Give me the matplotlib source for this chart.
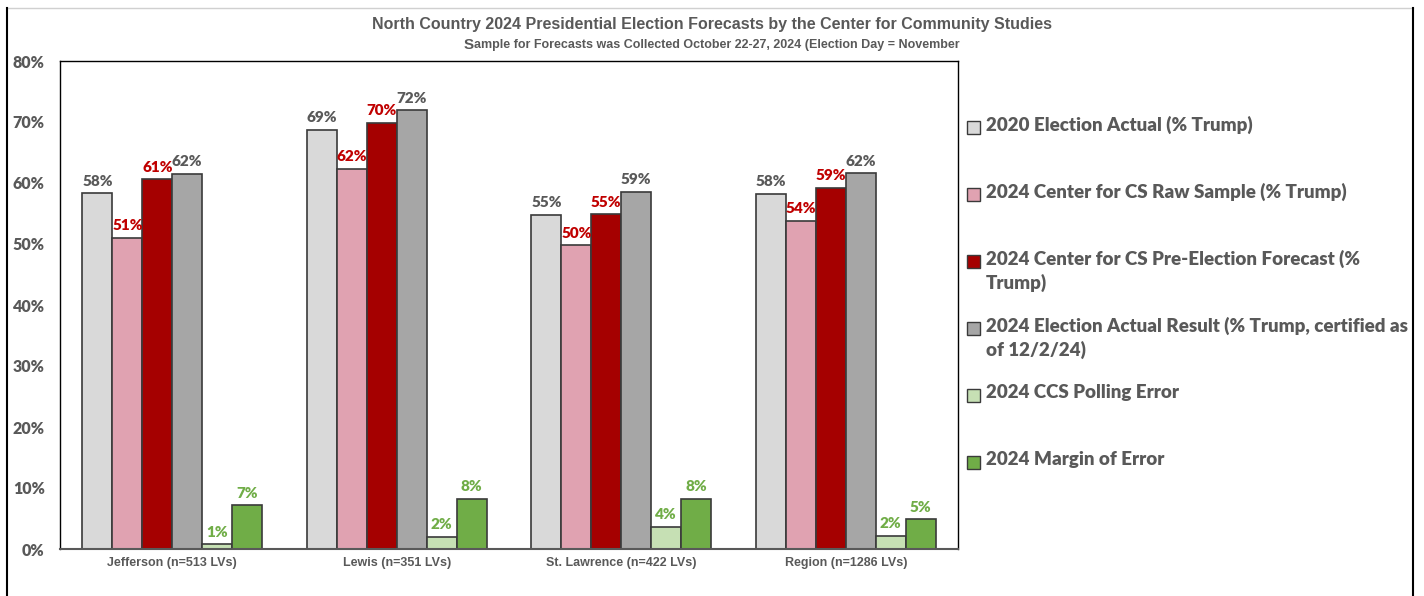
import matplotlib.pyplot as plt
import matplotlib as mpl
from matplotlib.patches import Rectangle
from matplotlib.lines import Line2D
import numpy as np

#==============================================================================
# data

categories = ['Jefferson (n=513 LVs)', 'Lewis (n=351 LVs)',
              'St. Lawrence (n=422 LVs)', 'Region (n=1286 LVs)']

series_names = ['2020 Election Actual (% Trump)',
                '2024 Center for CS Raw Sample (% Trump)',
                '2024 Center for CS Pre-Election Forecast (%\nTrump)',
                '2024 Election Actual Result (% Trump, certified as\nof 12/2/24)',
                '2024 CCS Polling Error',
                '2024 Margin of Error']

actual_2020   = [0.583, 0.687, 0.548, 0.582]
raw_sample    = [0.510, 0.623, 0.498, 0.538]
forecast      = [0.606, 0.699, 0.549, 0.592]
actual_2024   = [0.615, 0.719, 0.586, 0.616]
polling_error = [0.008, 0.020, 0.036, 0.022]
margin_error  = [0.072, 0.082, 0.082, 0.049]

values = [actual_2020, raw_sample, forecast, actual_2024, polling_error, margin_error]

#==============================================================================
# styles

colors      = ['#D9D9D9', '#E0A2B1', '#A50000', '#A6A6A6', '#C6E0B4', '#70AD47']
labelcolors = ['#595959', '#C00000', '#C00000', '#595959', '#70AD47', '#70AD47']
gray = '#595959'
calibri = ['Lato', 'DejaVu Sans']
arialn = ['Liberation Sans Narrow', 'Liberation Sans', 'DejaVu Sans']

fig = plt.figure(figsize=(14.24, 5.96), dpi=100)
ax = fig.add_axes([60/1424, 47/596, 898/1424, 488/596])

x = np.arange(len(categories))
width = 0.8 / len(values)

for i, vals in enumerate(values):
    xs = x - 0.4 + width*(i + 0.5)
    bars = ax.bar(xs, vals, width=width, color=colors[i], edgecolor='#3a3a3a', linewidth=1.2, zorder=2)
    for b, v in zip(bars, vals):
        ax.annotate('{:.0%}'.format(v), (b.get_x() + b.get_width()/2, v),
                    xytext=(0, 4), textcoords='offset points', ha='center', va='bottom',
                    fontsize=11, fontweight='heavy', color=labelcolors[i], family=calibri)

ax.set_xlim(-0.5, len(categories) - 0.5)
ax.set_ylim(0, 0.8)
ax.set_yticks(np.arange(0, 0.81, 0.1))
ax.yaxis.set_major_formatter(mpl.ticker.PercentFormatter(1.0, decimals=0))
ax.set_xticks(x)
ax.set_xticklabels(categories)
ax.tick_params(axis='both', length=0)
ax.tick_params(axis='y', pad=11)
ax.tick_params(axis='x', pad=6)
for lab in ax.get_yticklabels():
    lab.set_fontsize(11.5); lab.set_fontweight('heavy'); lab.set_color(gray); lab.set_family(calibri)
for lab in ax.get_xticklabels():
    lab.set_fontsize(9); lab.set_fontweight('bold'); lab.set_color(gray); lab.set_family(arialn)
for sp in ax.spines.values():
    sp.set_color('#000000'); sp.set_linewidth(1.0)
ax.spines['bottom'].set_color('#595959')
ax.spines['bottom'].set_linewidth(1.5)

# legend drawn by hand so two-line items keep an even spacing
top = 1 - 127/596
step = 67/596
for i, name in enumerate(series_names):
    yy = top - i*step
    fig.patches.append(Rectangle((967/1424, yy - 6.5/596), 13/1424, 13/596, transform=fig.transFigure,
                                 facecolor=colors[i], edgecolor='#3a3a3a', linewidth=1.0))
    fig.text(986/1424, yy + 11/596, name, ha='left', va='top', fontsize=13.5, fontweight='heavy',
             color=gray, family=calibri, linespacing=1.4)

# titles
fig.text(0.5, 1 - 24/596, 'North Country 2024 Presidential Election Forecasts by the Center for Community Studies',
         ha='center', va='center', fontsize=11.5, fontweight='bold', color=gray, family=arialn)
fig.text(474/1424, 1 - 45/596, 'S', ha='right', va='center', fontsize=11, fontweight='bold',
         color=gray, family=arialn)
fig.text(474/1424, 1 - 45/596, 'ample for Forecasts was Collected October 22-27, 2024 (Election Day = November',
         ha='left', va='center', fontsize=9, fontweight='bold', color=gray, family=arialn)

# outer frame
fig.add_artist(Line2D([7/1424, 1413/1424], [1 - 8/596, 1 - 8/596], transform=fig.transFigure, color='#d0d0d0', lw=1))
fig.add_artist(Line2D([7/1424, 7/1424], [0, 1 - 8/596], transform=fig.transFigure, color='#000000', lw=1.5))
fig.add_artist(Line2D([1413/1424, 1413/1424], [0, 1 - 8/596], transform=fig.transFigure, color='#000000', lw=1.5))

fig.savefig('out.png', dpi=100)
